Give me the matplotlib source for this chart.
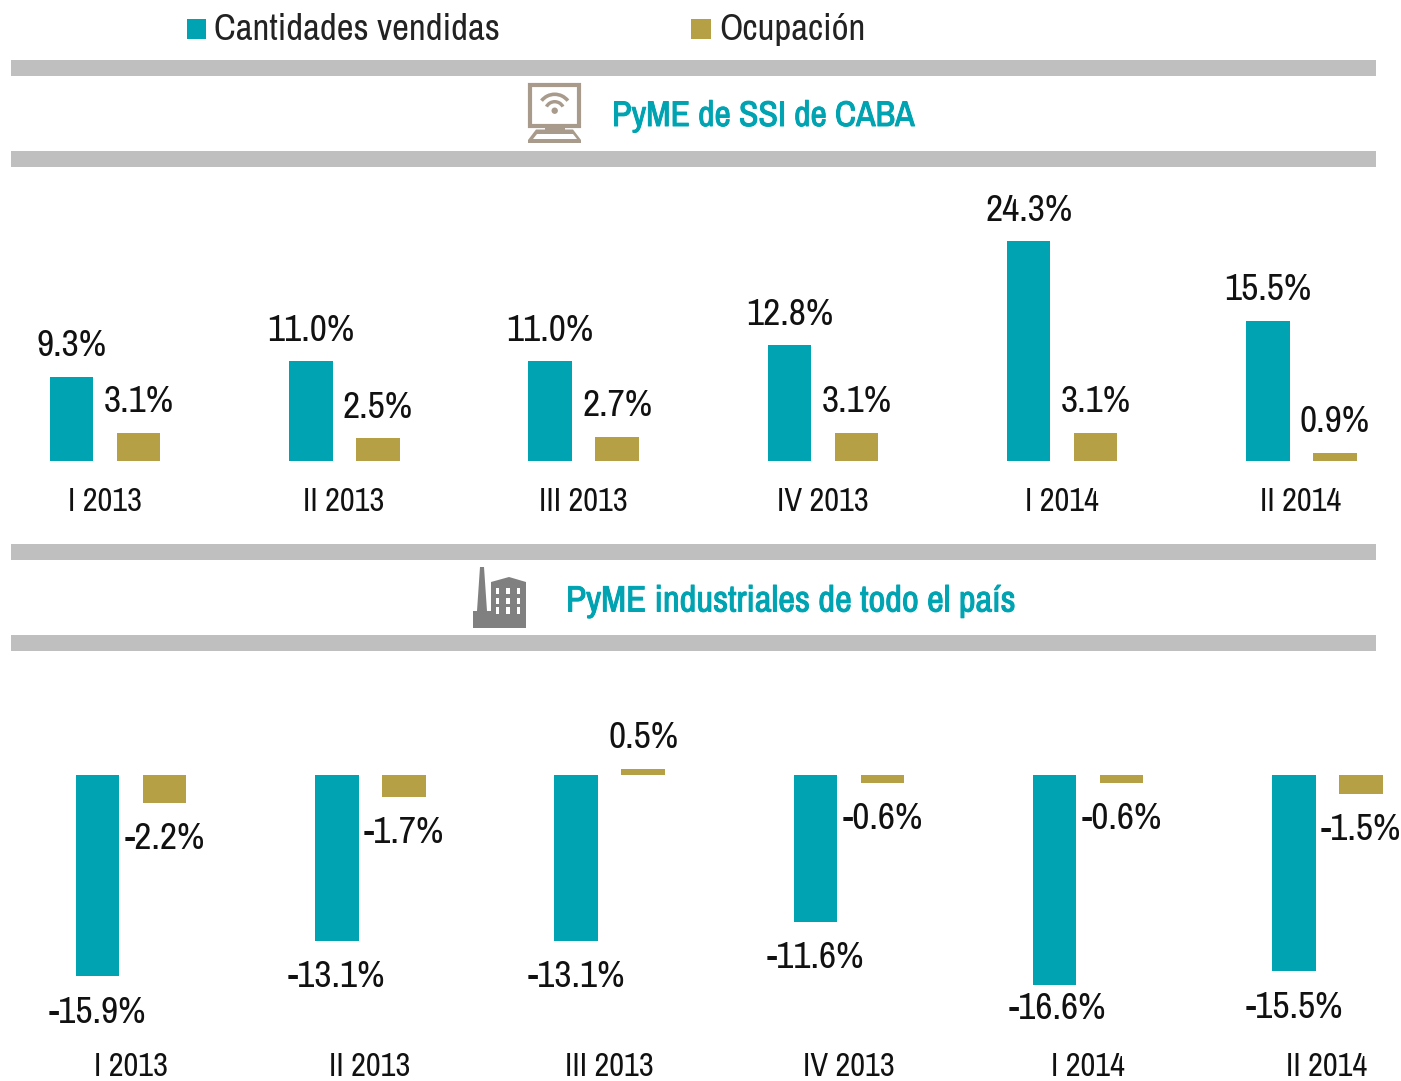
import matplotlib
matplotlib.use("Agg")
import matplotlib.pyplot as plt
import matplotlib.patheffects as pe
from matplotlib.patches import Rectangle, Polygon, Wedge, Circle

periods = ["I 2013", "II 2013", "III 2013", "IV 2013", "I 2014", "II 2014"]
caba_qty = [9.3, 11.0, 11.0, 12.8, 24.3, 15.5]
caba_occ = [3.1, 2.5, 2.7, 3.1, 3.1, 0.9]
ind_qty = [-15.9, -13.1, -13.1, -11.6, -16.6, -15.5]
ind_occ = [-2.2, -1.7, 0.5, -0.6, -0.6, -1.5]
series_names = ["Cantidades vendidas", "Ocupación"]
title_caba = "PyME de SSI de CABA"
title_ind = "PyME industriales de todo el país"

TEAL = "#00A3B1"
GOLD = "#B5A045"
GREY = "#BFBFBF"
plt.rcParams["font.family"] = ["Archivo Narrow", "Liberation Sans", "DejaVu Sans"]

W, H = 1401, 1081
fig = plt.figure(figsize=(W / 100, H / 100), dpi=100, facecolor="white")

# pixel overlay for page furniture
bg = fig.add_axes([0, 0, 1, 1], zorder=0)
bg.set_xlim(0, W)
bg.set_ylim(H, 0)
bg.axis("off")
for y0, y1 in [(60, 76), (151, 167), (544, 560), (635, 651)]:
    bg.add_patch(Rectangle((11, y0), 1365, y1 - y0, color=GREY, lw=0))

# legend
bg.add_patch(Rectangle((187, 19), 19, 20, color=TEAL, lw=0))
bg.add_patch(Rectangle((691, 19), 20, 20, color=GOLD, lw=0))
bg.text(214, 30, series_names[0], fontsize=26.5, color="#222222", va="center", ha="left")
bg.text(719, 30, series_names[1], fontsize=26.5, color="#222222", va="center", ha="left")

bold = [pe.withStroke(linewidth=0.7, foreground=TEAL)]
bg.text(612, 116, title_caba, fontsize=25.7, color=TEAL, va="center", ha="left", path_effects=bold)
bg.text(566, 601, title_ind, fontsize=26.4, color=TEAL, va="center", ha="left", path_effects=bold)

# computer icon
IC = "#A89B8C"
bg.add_patch(Rectangle((530.3, 85), 48.7, 41, fill=False, ec=IC, lw=3))
bg.add_patch(Rectangle((545, 126), 20, 5, color=IC, lw=0))
bg.add_patch(Polygon([(536, 129.5), (573, 129.5), (581, 140), (581, 143), (528, 143), (528, 140)], closed=True, color=IC, lw=0))
bg.add_patch(Polygon([(537, 134), (573, 134), (577, 139), (533, 139)], closed=True, color="white", lw=0))
bg.add_patch(Circle((554.7, 110.7), 3.2, color=IC, lw=0))
# y axis is inverted on this overlay, so these wedge angles open upward
bg.add_patch(Wedge((554.7, 111), 18.5, 218, 322, width=3.6, color=IC, lw=0))
bg.add_patch(Wedge((554.7, 111), 11, 208, 332, width=3.4, color=IC, lw=0))

# factory icon
FC = "#808080"
bg.add_patch(Polygon([(473, 611), (477, 611), (480, 567), (484, 567), (487, 611), (491, 611),
                      (491, 582), (509, 577), (526, 582), (526, 628), (473, 628)],
                     closed=True, color=FC, lw=0))
for cx in (497.5, 508, 518.5):
    for cy in (591, 601, 610.5):
        bg.add_patch(Rectangle((cx - 1.8, cy - 3.3), 3.6, 6.6, color="white", lw=0))


def panel(top_px, bottom_px, base_px, px_per_unit, first_teal_center, qty, occ, tick_y, tick_center):
    """Chart axes spanning the page width; data scale maps values to pixels."""
    ax = fig.add_axes([0, 1 - bottom_px / H, 1, (bottom_px - top_px) / H], zorder=1)
    ax.patch.set_alpha(0)
    ax.axis("off")
    step = 239.3
    ax.set_xlim(-first_teal_center / step, (W - first_teal_center) / step)
    ax.set_ylim((base_px - bottom_px) / px_per_unit, (base_px - top_px) / px_per_unit)
    bw = 43.5 / step
    dx = 67 / step
    for i, (q, o) in enumerate(zip(qty, occ)):
        ax.bar(i, q, width=bw, color=TEAL, lw=0)
        ax.bar(i + dx, o, width=bw, color=GOLD, lw=0)
        for xv, v, off in ((i, q, 31 if q > 0 else -36), (i + dx, o, 31 if o > 0 else -36)):
            xoff = 0
            if v == -16.6:      # this label sits closer to its bar in the reference
                off, xoff = -24, 3
            ax.annotate(f"{v:.1f}%", (xv, v), xytext=(xoff * 0.72, off * 0.72), textcoords="offset points",
                        ha="center", va="center", fontsize=27, color="#111111")
        bg.text(first_teal_center + tick_center + i * step, tick_y, periods[i], fontsize=23.4,
                color="#111111", ha="center", va="center")
    return ax


panel(170, 480, 461, 9.05, 71.5, caba_qty, caba_occ, 502, 33)
panel(660, 1040, 775, 12.65, 97.5, ind_qty, ind_occ, 1067.5, 33)

fig.savefig("out.png", dpi=100, facecolor="white")
